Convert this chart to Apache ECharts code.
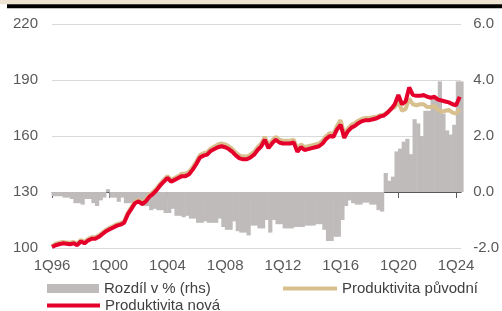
<!DOCTYPE html>
<html>
<head>
<meta charset="utf-8">
<script src="https://cdn.jsdelivr.net/npm/echarts@6/dist/echarts.min.js"></script>
<style>
html,body{margin:0;padding:0;background:#fff;}
#chart{width:502px;height:311px;}
</style>
</head>
<body>
<div id="chart"></div>
<script>
// Quarter index 0 = 1Q96 ... 113 = 2Q24
const tickLabels = ['1Q96','1Q00','1Q04','1Q08','1Q12','1Q16','1Q20','1Q24'];
const tickStep = 16; // quarters between labelled ticks

const produktivitaNova = [
100.5,101.5,102,102.5,102.3,102,102.5,101.5,103.5,102.5,
104,105,105,106,107.5,109,110,111,112,112.5,
113.5,118,121,124,125,123.5,125,127.5,129,131,
133.5,135.5,137.5,135.5,136.5,137.5,138.5,138.5,139.5,142,
145,148.5,149.5,150,152,153,154,154.5,154,153,
151.5,149.5,148,147.5,147.5,148.5,150,152.5,154.5,158,
153.5,156,158,156.5,156,156,156,156.5,151.5,154,
152.5,153,153.5,154,154.5,156,158.5,160,159.5,163.5,
166,159,162.5,164.5,165.5,167,168,168.5,168.5,169,
169.5,170.5,171,172.5,174.5,177,182,177,178.5,186,
182,181.5,181.5,182,181,180.5,181,179.5,179,178.5,
178,177,176.5,181
];

const produktivitaPuvodni = [
101,102.3,102.8,103.2,103,102.8,103.2,102.3,104.3,103.3,
104.8,105.8,105.8,106.8,108.3,109.8,110.8,111.8,112.8,113.3,
114.3,118.8,121.8,124.8,125.8,124.5,126,128.5,130,132,
134.5,136.5,138.5,136.5,137.5,138.5,139.8,139.8,140.8,143.3,
146.3,149.8,150.8,151.3,153.3,154.3,155.5,156,155.5,154.5,
153,151,149.5,149,149,150,151.5,154,156,159.5,
155,157.5,159.5,158,157.5,157.5,157.5,158,153,155.5,
154,154.5,155,155.5,156,157.5,160,161.5,161,165.5,
168.5,161,164,166,167,168.3,169.2,169.6,169.6,170,
170.3,171.2,171.6,172.8,174.6,175.5,178.5,173.5,174.5,180,
177,176.5,177,177,175.5,175.5,176,174,173,173.5,
174,172.5,172,174.5
];

const rozdil = [
-0.15,-0.15,-0.15,-0.2,-0.2,-0.25,-0.4,-0.4,-0.45,-0.25,
-0.25,-0.4,-0.5,-0.3,-0.2,0.1,-0.2,-0.2,-0.35,-0.2,
-0.4,-0.4,-0.38,-0.38,-0.3,-0.5,-0.5,-0.65,-0.6,-0.65,
-0.65,-0.75,-0.75,-0.6,-0.85,-0.85,-0.9,-0.85,-0.95,-0.95,
-1.1,-1.1,-1.05,-1.1,-1.1,-1.1,-0.95,-1.25,-1.35,-1.35,
-1.05,-1.4,-1.45,-1.45,-1.55,-1.2,-1.2,-1.3,-1.3,-1.0,
-1.45,-1.0,-1.15,-1.15,-1.3,-1.3,-1.3,-1.25,-1.25,-1.25,
-1.2,-1.2,-1.2,-1.15,-1.15,-1.35,-1.75,-1.75,-1.6,-1.6,
-1.0,-0.5,-0.3,-0.4,-0.45,-0.45,-0.38,-0.38,-0.45,-0.45,
-0.65,-0.7,0.68,0.4,0.55,1.45,1.55,1.8,1.9,1.35,
2.6,2.45,2.0,2.9,2.9,3.3,3.3,3.95,2.8,2.2,
2.05,2.4,3.95,3.95
];

const seriesNames = ['Rozdíl v % (rhs)', 'Produktivita původní', 'Produktivita nová'];

const FONT = '"Liberation Sans", Arial, sans-serif';
const tickValues = tickLabels.map((_, k) => k * tickStep);
const lineData = arr => arr.map((v, i) => [i, v]);
// each quarter's bar spans [i, i+1]
const barData = rozdil.map((v, i) => [i + 0.5, v]);

const chart = echarts.init(document.getElementById('chart'), null, {renderer: 'canvas'});
chart.setOption({
  animation: false,
  backgroundColor: '#ffffff',
  graphic: [
    {type: 'rect', shape: {x: 0, y: 0, width: 502, height: 4.3}, style: {fill: '#ece3d2'}, silent: true},
    {type: 'rect', shape: {x: 7, y: 4.3, width: 495, height: 4}, style: {fill: '#000000'}, silent: true}
  ],
  grid: {left: 52, right: 35, top: 24, bottom: 63},
  xAxis: {
    type: 'value', min: 0, max: 113.4,
    axisLine: {show: true, lineStyle: {color: '#595959', width: 1}},
    axisTick: {show: true, length: 6, lineStyle: {color: '#595959'}, customValues: tickValues},
    axisLabel: {
      customValues: tickValues,
      color: '#595959', fontFamily: FONT, fontSize: 15, margin: 10,
      formatter: v => tickLabels[Math.round(v / tickStep)] || ''
    },
    splitLine: {show: false}
  },
  yAxis: [
    {
      type: 'value', min: 100, max: 220, interval: 30,
      axisLine: {show: false}, axisTick: {show: false},
      axisLabel: {color: '#595959', fontFamily: FONT, fontSize: 15, margin: 14},
      splitLine: {show: true, lineStyle: {color: '#d9d9d9', width: 1}}
    },
    {
      type: 'value', min: -2, max: 6, interval: 2,
      axisLine: {show: false}, axisTick: {show: false},
      axisLabel: {color: '#595959', fontFamily: FONT, fontSize: 15, margin: 12, formatter: v => v.toFixed(1)},
      splitLine: {show: false}
    }
  ],
  legend: [
    {data: [{name: seriesNames[0], icon: 'rect'}], left: 47, top: 281, padding: 0,
     itemWidth: 52, itemHeight: 9, textStyle: {color: '#404040', fontFamily: FONT, fontSize: 15}},
    {data: [{name: seriesNames[1], icon: 'rect'}], left: 283, top: 281, padding: 0,
     itemWidth: 54, itemHeight: 4, textStyle: {color: '#404040', fontFamily: FONT, fontSize: 15}},
    {data: [{name: seriesNames[2], icon: 'rect'}], left: 47, top: 298, padding: 0,
     itemWidth: 53, itemHeight: 4, textStyle: {color: '#404040', fontFamily: FONT, fontSize: 15}}
  ],
  series: [
    {
      name: seriesNames[0], type: 'bar', yAxisIndex: 1,
      data: barData, barWidth: 4.2, clip: true,
      itemStyle: {color: '#bfbbbb'},
      z: 1
    },
    {
      name: seriesNames[1], type: 'line', yAxisIndex: 0,
      data: lineData(produktivitaPuvodni), showSymbol: false, symbol: 'none',
      itemStyle: {color: '#d8c08e'},
      lineStyle: {width: 4, color: '#d8c08e'},
      z: 3
    },
    {
      name: seriesNames[2], type: 'line', yAxisIndex: 0,
      data: lineData(produktivitaNova), showSymbol: false, symbol: 'none',
      itemStyle: {color: '#e4002b'},
      lineStyle: {width: 4, color: '#e4002b'},
      z: 4
    }
  ]
});
</script>
</body>
</html>
